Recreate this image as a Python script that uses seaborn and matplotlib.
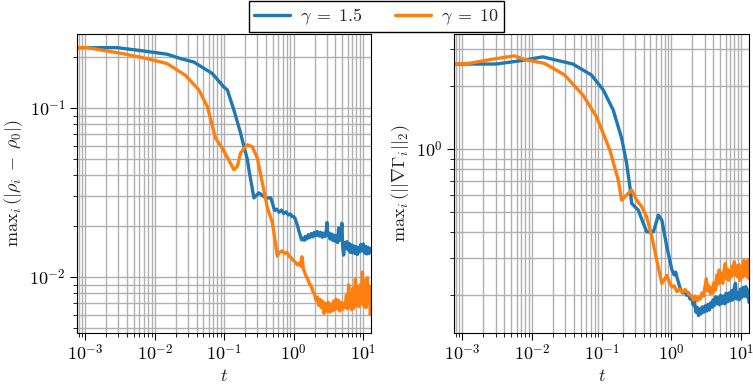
import numpy as np
import pandas as pd
import matplotlib
matplotlib.use("Agg")
import matplotlib.pyplot as plt
import matplotlib.ticker as mticker
import seaborn as sns

# ---------------- data ----------------
series_labels = [r"$\gamma\;=\;1.5$", r"$\gamma\;=\;10$"]
colors = ["#1f77b4", "#ff7f0e"]

# left panel: max_i |rho_i - rho_0|
rho_t_g15 = [0.00076, 0.00286, 0.00694, 0.0151, 0.0235, 0.0366, 0.0673, 0.099, 0.111,
             0.138, 0.172, 0.182, 0.216, 0.227, 0.268, 0.317, 0.396, 0.468,
             0.50, 0.53, 0.57, 0.62, 0.67, 0.72, 0.78, 0.84, 0.90, 0.95,
             1.00, 1.05, 1.10, 1.15, 1.20, 1.25, 1.30, 1.36, 1.42, 1.48, 1.55, 1.62,
             1.70, 1.80, 1.90, 2.00, 2.10, 2.20, 2.32, 2.45, 2.58, 2.72, 2.85, 2.95,
             3.02, 3.08, 3.20, 3.35, 3.50, 3.65, 3.80, 3.95, 4.10, 4.30, 4.45, 4.60,
             4.80, 4.95, 5.10, 5.25, 5.45, 5.65, 5.85, 6.05, 6.30, 6.55, 6.80, 7.05,
             7.35, 7.65, 7.95, 8.25, 8.60, 8.95, 9.30, 9.70, 10.1, 10.5, 10.9, 11.3,
             11.7, 12.1, 12.5, 13.0]
rho_v_g15 = [0.2275, 0.2275, 0.2175, 0.208, 0.196, 0.187, 0.160, 0.133, 0.128,
             0.0973, 0.0713, 0.0648, 0.0495, 0.0432, 0.0294, 0.0315, 0.0294, 0.0294,
             0.0270, 0.0248, 0.0252, 0.0242, 0.0249, 0.0238, 0.0243, 0.0233, 0.0236, 0.0228,
             0.0228, 0.0222, 0.0210, 0.0198, 0.0185, 0.0176, 0.0166, 0.0170, 0.0165, 0.0174,
             0.0168, 0.0178, 0.0171, 0.0181, 0.0173, 0.0184, 0.0176, 0.0186, 0.0175, 0.0184,
             0.0172, 0.0182, 0.0174, 0.0186, 0.0210, 0.0176, 0.0183, 0.0168, 0.0180, 0.0165,
             0.0177, 0.0163, 0.0176, 0.0160, 0.0195, 0.0165, 0.0178, 0.0208, 0.0150, 0.0135,
             0.0160, 0.0148, 0.0162, 0.0145, 0.0158, 0.0140, 0.0155, 0.0139, 0.0153, 0.0138,
             0.0151, 0.0136, 0.0150, 0.0141, 0.0156, 0.0143, 0.0157, 0.0139, 0.0152, 0.0137,
             0.0150, 0.0138, 0.0148, 0.0140]

rho_t_g10 = [0.00076, 0.00106, 0.0032, 0.00776, 0.0151, 0.0277, 0.0432, 0.0571, 0.0751,
             0.0939, 0.138, 0.155, 0.172, 0.204, 0.216, 0.254, 0.300, 0.355, 0.419,
             0.494, 0.54, 0.583, 0.62, 0.689, 0.74, 0.80, 0.859, 0.92, 0.98, 1.05,
             1.13, 1.20, 1.27, 1.32, 1.38, 1.50, 1.60, 1.70, 1.80, 1.90, 2.00, 2.10,
             2.20, 2.30, 2.40, 2.50, 2.62, 2.74, 2.86, 3.00, 3.15, 3.30, 3.45, 3.60,
             3.75, 3.90, 4.05, 4.20, 4.40, 4.60, 4.80, 5.00, 5.25, 5.50, 5.75, 6.00,
             6.20, 6.40, 6.65, 6.90, 7.15, 7.45, 7.75, 8.05, 8.40, 8.75, 9.10, 9.45,
             9.80, 10.2, 10.6, 11.0, 11.5, 11.9, 12.3, 12.7, 13.0]
rho_v_g10 = [0.2275, 0.2275, 0.211, 0.196, 0.183, 0.156, 0.128, 0.102, 0.0663,
             0.0579, 0.0432, 0.0452, 0.0542, 0.0592, 0.0606, 0.0590, 0.0506, 0.0360, 0.0257,
             0.0210, 0.0165, 0.0133, 0.0140, 0.0143, 0.0138, 0.0140, 0.0133, 0.0130, 0.0126, 0.0123,
             0.0118, 0.0121, 0.0116, 0.0132, 0.0112, 0.0102, 0.0097, 0.0091, 0.0088, 0.0082, 0.0079, 0.0073,
             0.0076, 0.0068, 0.0074, 0.0066, 0.0072, 0.0061, 0.0070, 0.0063, 0.0071, 0.0062, 0.0069, 0.0063,
             0.0072, 0.0064, 0.0074, 0.0065, 0.0073, 0.0063, 0.0071, 0.0064, 0.0070, 0.0066, 0.0078, 0.0065,
             0.0090, 0.0066, 0.0080, 0.0064, 0.0086, 0.0066, 0.0097, 0.0068, 0.0088, 0.0067, 0.0090, 0.0070,
             0.0107, 0.0068, 0.0095, 0.0066, 0.0099, 0.0070, 0.0088, 0.0060, 0.0065]

# right panel: max_i ||grad Gamma_i||_2
grad_t_g15 = [0.00076, 0.00303, 0.00658, 0.01426, 0.0248, 0.0387, 0.0713, 0.105, 0.146,
              0.193, 0.228, 0.254, 0.269, 0.335, 0.396, 0.443, 0.552, 0.652, 0.730,
              0.861, 1.02, 1.10, 1.15, 1.22, 1.34, 1.45, 1.55, 1.65, 1.75, 1.85, 1.95,
              2.05, 2.15, 2.25, 2.35, 2.45, 2.55, 2.65, 2.78, 2.92, 3.05, 3.20, 3.35,
              3.50, 3.65, 3.80, 3.95, 4.10, 4.30, 4.50, 4.70, 4.90, 5.10, 5.35, 5.60,
              5.85, 6.10, 6.40, 6.70, 7.00, 7.30, 7.60, 7.95, 8.30, 8.60, 9.00, 9.40,
              9.80, 10.2, 10.7, 11.2, 11.7, 12.2, 12.6, 13.0]
grad_v_g15 = [2.55, 2.55, 2.64, 2.76, 2.64, 2.55, 2.26, 1.92, 1.54,
              1.13, 0.855, 0.660, 0.550, 0.511, 0.441, 0.402, 0.402, 0.483, 0.457,
              0.341, 0.264, 0.250, 0.258, 0.240, 0.215, 0.205, 0.210, 0.200, 0.206, 0.192, 0.198,
              0.180, 0.186, 0.166, 0.175, 0.160, 0.172, 0.163, 0.176, 0.166, 0.178, 0.168, 0.181,
              0.170, 0.184, 0.175, 0.190, 0.178, 0.196, 0.182, 0.195, 0.180, 0.200, 0.183, 0.198,
              0.182, 0.204, 0.186, 0.205, 0.188, 0.210, 0.190, 0.215, 0.228, 0.192, 0.206, 0.190,
              0.214, 0.195, 0.218, 0.198, 0.220, 0.196, 0.212, 0.185]

grad_t_g10 = [0.00076, 0.00125, 0.00271, 0.00557, 0.00822, 0.0151, 0.0294, 0.0539, 0.0841,
              0.131, 0.173, 0.193, 0.269, 0.318, 0.375, 0.443, 0.524, 0.618, 0.730,
              0.861, 0.93, 1.02, 1.10, 1.20, 1.30, 1.42, 1.58, 1.72, 1.88, 2.00, 2.09,
              2.20, 2.35, 2.50, 2.60, 2.75, 2.90, 3.05, 3.18, 3.30, 3.45, 3.63, 3.80,
              3.95, 4.10, 4.30, 4.50, 4.70, 4.85, 5.05, 5.25, 5.45, 5.70, 5.95, 6.15,
              6.40, 6.65, 6.90, 7.15, 7.40, 7.70, 8.00, 8.30, 8.60, 8.90, 9.30, 9.70,
              10.1, 10.5, 11.0, 11.4, 11.8, 12.2, 12.6, 13.0]
grad_v_g10 = [2.55, 2.57, 2.69, 2.79, 2.67, 2.57, 2.26, 1.81, 1.43,
              0.989, 0.711, 0.570, 0.637, 0.570, 0.530, 0.474, 0.380, 0.294, 0.228,
              0.249, 0.232, 0.219, 0.222, 0.208, 0.214, 0.206, 0.213, 0.205, 0.200, 0.196, 0.190,
              0.198, 0.188, 0.196, 0.192, 0.205, 0.198, 0.222, 0.240, 0.210, 0.222, 0.204, 0.218,
              0.205, 0.230, 0.212, 0.250, 0.226, 0.264, 0.232, 0.255, 0.228, 0.262, 0.284, 0.240,
              0.266, 0.236, 0.262, 0.244, 0.275, 0.250, 0.289, 0.250, 0.276, 0.245, 0.280, 0.236,
              0.274, 0.244, 0.294, 0.250, 0.280, 0.245, 0.296, 0.240]

x_label = r"$t$"
y_label_left = r"$\mathrm{max}_i\,(|\rho_i\;-\;\rho_0|)$"
y_label_right = r"$\mathrm{max}_i\,(||\nabla\Gamma_i||_2)$"

# ---------------- build tables ----------------
def make_df(t1, v1, t2, v2):
    return pd.concat([
        pd.DataFrame({"t": t1, "v": v1, "series": series_labels[0]}),
        pd.DataFrame({"t": t2, "v": v2, "series": series_labels[1]}),
    ], ignore_index=True)

df_rho = make_df(rho_t_g15, rho_v_g15, rho_t_g10, rho_v_g10)
df_grad = make_df(grad_t_g15, grad_v_g15, grad_t_g10, grad_v_g10)

# ---------------- style ----------------
sns.set_theme(style="ticks")
plt.rcParams["font.family"] = ["DejaVu Serif"]
plt.rcParams["mathtext.fontset"] = "cm"
plt.rcParams["axes.edgecolor"] = "black"
plt.rcParams["xtick.color"] = "black"
plt.rcParams["ytick.color"] = "black"

fig = plt.figure(figsize=(7.53, 3.85), dpi=100)
ax1 = fig.add_axes([77 / 753, 52 / 385, 294 / 753, 299 / 385])
ax2 = fig.add_axes([454 / 753, 52 / 385, 295 / 753, 299 / 385])

palette = dict(zip(series_labels, colors))


def pow10_fmt(val, pos):
    if val <= 0:
        return ""
    e = np.log10(val)
    if abs(e - round(e)) > 1e-6:
        return ""
    return r"$10^{%d}$" % int(round(e))


for ax, df, ylab, ylim in [
    (ax1, df_rho, y_label_left, (0.00467, 0.274)),
    (ax2, df_grad, y_label_right, (0.132, 3.55)),
]:
    sns.lineplot(data=df, x="t", y="v", hue="series", palette=palette,
                 estimator=None, sort=True, linewidth=2.4, ax=ax, legend=False)
    ax.set_xscale("log")
    ax.set_yscale("log")
    ax.set_xlim(0.00076, 13.0)
    ax.set_ylim(*ylim)
    ax.xaxis.set_major_formatter(mticker.FuncFormatter(pow10_fmt))
    ax.yaxis.set_major_formatter(mticker.FuncFormatter(pow10_fmt))
    ax.xaxis.set_minor_formatter(mticker.NullFormatter())
    ax.yaxis.set_minor_formatter(mticker.NullFormatter())
    ax.grid(True, which="both", color="#b0b0b0", linewidth=1.0)
    ax.set_axisbelow(True)
    ax.set_xlabel(x_label, fontsize=13, labelpad=2)
    ax.set_ylabel(ylab, fontsize=13, labelpad=3)
    ax.tick_params(axis="both", which="major", labelsize=13, length=5, width=0.8,
                   direction="out", top=False, right=False, pad=3)
    ax.tick_params(axis="both", which="minor", length=3, width=0.6,
                   direction="out", top=False, right=False)
    for sp in ax.spines.values():
        sp.set_visible(True)
        sp.set_color("black")
        sp.set_linewidth(0.8)

handles = [plt.Line2D([], [], color=c, linewidth=2.4) for c in colors]
leg = fig.legend(handles, series_labels, loc="upper center", bbox_to_anchor=(0.5, 1.0),
                 ncol=2, frameon=True, fancybox=False, framealpha=1.0,
                 edgecolor="black", fontsize=13, handlelength=2.0, handletextpad=0.55,
                 columnspacing=1.8, borderpad=0.3, borderaxespad=0.05)
leg.get_frame().set_linewidth(1.0)

fig.savefig("out.png", dpi=100)
